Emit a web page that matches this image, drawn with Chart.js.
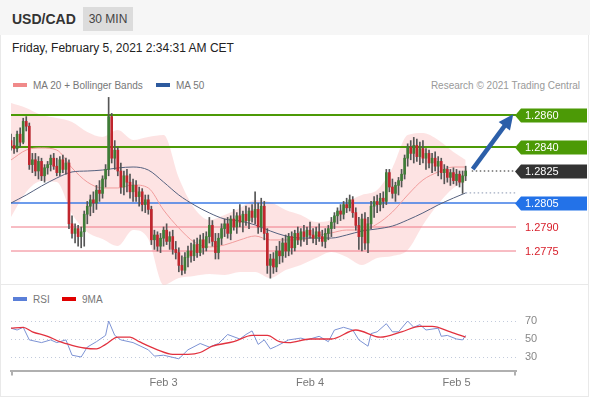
<!DOCTYPE html>
<html>
<head>
<meta charset="utf-8">
<script src="https://cdn.jsdelivr.net/npm/chart.js@4.4.1/dist/chart.umd.min.js"></script>
<style>
  body { margin:0; width:590px; height:400px; background:#fff; position:relative; overflow:hidden;
         font-family:"Liberation Sans", Arial, sans-serif; color:#333; }
  #head { position:absolute; left:0; top:0; width:590px; height:35px; background:#f6f6f6; }
  #sym { position:absolute; left:12px; top:11px; font-weight:bold; font-size:14px; line-height:16px; color:#333; }
  #tf { position:absolute; left:83px; top:7px; width:50px; height:24px; line-height:24px; text-align:center;
        background:#dcdcdc; font-size:12px; color:#444; }
  #frame { position:absolute; left:0; top:35px; width:587px; height:361px; border:1px solid #e9e9e9; border-top:none; }
  #sep { position:absolute; left:0; top:284px; width:588px; height:1px; background:#e9e9e9; }
  #date { position:absolute; left:12px; top:41px; font-size:12px; line-height:14px; color:#222; }
  .lg { position:absolute; font-size:10px; line-height:12px; color:#777; white-space:nowrap; }
  .lg i { display:inline-block; width:14px; height:4px; vertical-align:middle; margin:-2px 6px 0 0; }
  canvas { position:absolute; left:0; }
</style>
</head>
<body>
<div id="head"><span id="sym">USD/CAD</span><span id="tf">30 MIN</span></div>
<div id="frame"></div>
<div id="sep"></div>
<div id="date">Friday, February 5, 2021 2:34:31 AM CET</div>
<div class="lg" style="left:13px;top:80px"><i style="background:#f08a8a"></i>MA 20 + Bollinger Bands</div>
<div class="lg" style="left:156px;top:80px"><i style="background:#2d5a9e"></i>MA 50</div>
<div class="lg" style="right:10px;top:80px;color:#999">Research © 2021 Trading Central</div>
<div class="lg" style="left:13px;top:294px"><i style="background:#5a7fd8"></i>RSI</div>
<div class="lg" style="left:62px;top:294px"><i style="background:#e00000"></i>9MA</div>
<canvas id="main" width="590" height="195" style="top:90px"></canvas>
<canvas id="rsi" width="590" height="112" style="top:285px"></canvas>
<script>
// 30 min candles, Feb 2 late -> Feb 5 ~02:00
const opens = [1.2844,1.2841,1.2839,1.2848,1.2843,1.2856,1.2853,1.2829,1.2832,1.2825,
  1.2831,1.2822,1.2827,1.2829,1.2833,1.2828,1.2824,1.2832,1.2826,1.2830,
  1.2792,1.2786,1.2789,1.2784,1.2787,1.2798,1.2803,1.2807,1.2805,1.2813,
  1.2811,1.2820,1.2826,1.2859,1.2833,1.2838,1.2825,1.2815,1.2822,1.2818,
  1.2812,1.2816,1.2809,1.2812,1.2804,1.2807,1.2801,1.2782,1.2785,1.2778,
  1.2783,1.2788,1.2781,1.2784,1.2776,1.2774,1.2766,1.2763,1.2771,1.2775,
  1.2772,1.2779,1.2774,1.2782,1.2777,1.2784,1.2791,1.2781,1.2774,1.2783,
  1.2789,1.2792,1.2786,1.2795,1.2790,1.2797,1.2793,1.2798,1.2794,1.2800,
  1.2796,1.2801,1.2790,1.2803,1.2786,1.2766,1.2770,1.2765,1.2775,1.2772,
  1.2780,1.2775,1.2784,1.2777,1.2786,1.2782,1.2787,1.2784,1.2788,1.2785,
  1.2783,1.2787,1.2784,1.2781,1.2786,1.2789,1.2793,1.2797,1.2800,1.2798,
  1.2804,1.2802,1.2807,1.2799,1.2791,1.2784,1.2795,1.2780,1.2792,1.2803,
  1.2806,1.2804,1.2808,1.2806,1.2824,1.2815,1.2811,1.2816,1.2819,1.2823,
  1.2833,1.2840,1.2836,1.2841,1.2834,1.2839,1.2833,1.2836,1.2830,1.2833,
  1.2828,1.2831,1.2824,1.2826,1.2821,1.2824,1.2819,1.2823,1.2818,1.2822];
const highs = [1.2848,1.2846,1.2850,1.2852,1.2858,1.2859,1.2855,1.2836,1.2836,1.2834,
  1.2833,1.2829,1.2831,1.2835,1.2836,1.2833,1.2834,1.2835,1.2833,1.2832,
  1.2797,1.2792,1.2791,1.2790,1.2800,1.2806,1.2810,1.2812,1.2816,1.2819,
  1.2822,1.2829,1.2871,1.2861,1.2844,1.2840,1.2830,1.2825,1.2826,1.2823,
  1.2820,1.2819,1.2815,1.2814,1.2810,1.2810,1.2803,1.2788,1.2787,1.2786,
  1.2790,1.2792,1.2787,1.2788,1.2781,1.2777,1.2772,1.2774,1.2778,1.2780,
  1.2782,1.2783,1.2785,1.2786,1.2787,1.2796,1.2794,1.2786,1.2786,1.2792,
  1.2795,1.2796,1.2797,1.2801,1.2799,1.2804,1.2800,1.2803,1.2802,1.2804,
  1.2812,1.2805,1.2808,1.2806,1.2789,1.2773,1.2774,1.2778,1.2781,1.2783,
  1.2785,1.2786,1.2787,1.2788,1.2790,1.2789,1.2791,1.2790,1.2793,1.2789,
  1.2790,1.2792,1.2788,1.2789,1.2791,1.2796,1.2799,1.2802,1.2804,1.2806,
  1.2808,1.2810,1.2809,1.2802,1.2796,1.2798,1.2799,1.2796,1.2806,1.2809,
  1.2810,1.2811,1.2812,1.2826,1.2826,1.2820,1.2818,1.2821,1.2826,1.2835,
  1.2842,1.2844,1.2846,1.2845,1.2843,1.2844,1.2839,1.2838,1.2836,1.2837,
  1.2834,1.2833,1.2829,1.2828,1.2826,1.2827,1.2826,1.2825,1.2825,1.2828];
const lows = [1.2838,1.2836,1.2837,1.2840,1.2842,1.2850,1.2826,1.2824,1.2822,1.2820,
  1.2819,1.2818,1.2823,1.2825,1.2826,1.2822,1.2822,1.2824,1.2823,1.2789,
  1.2783,1.2780,1.2778,1.2777,1.2778,1.2792,1.2797,1.2799,1.2801,1.2806,
  1.2808,1.2815,1.2822,1.2830,1.2826,1.2822,1.2811,1.2810,1.2812,1.2808,
  1.2806,1.2806,1.2803,1.2800,1.2799,1.2798,1.2779,1.2776,1.2775,1.2774,
  1.2778,1.2779,1.2776,1.2773,1.2770,1.2762,1.2760,1.2761,1.2765,1.2768,
  1.2769,1.2771,1.2772,1.2773,1.2775,1.2780,1.2778,1.2770,1.2770,1.2779,
  1.2784,1.2783,1.2782,1.2788,1.2786,1.2790,1.2787,1.2791,1.2789,1.2793,
  1.2792,1.2786,1.2787,1.2782,1.2761,1.2758,1.2761,1.2762,1.2767,1.2768,
  1.2771,1.2772,1.2773,1.2775,1.2779,1.2778,1.2781,1.2779,1.2783,1.2780,
  1.2779,1.2781,1.2778,1.2777,1.2782,1.2784,1.2789,1.2792,1.2794,1.2795,
  1.2799,1.2800,1.2796,1.2788,1.2776,1.2775,1.2776,1.2774,1.2789,1.2796,
  1.2799,1.2800,1.2802,1.2804,1.2812,1.2808,1.2806,1.2810,1.2815,1.2820,
  1.2828,1.2832,1.2830,1.2831,1.2829,1.2830,1.2826,1.2827,1.2824,1.2825,
  1.2822,1.2820,1.2817,1.2818,1.2816,1.2817,1.2816,1.2815,1.2811,1.2819];
const closes = [1.2841,1.2839,1.2848,1.2843,1.2856,1.2853,1.2829,1.2832,1.2825,1.2831,
  1.2822,1.2827,1.2829,1.2833,1.2828,1.2824,1.2832,1.2826,1.2830,1.2792,
  1.2786,1.2789,1.2784,1.2787,1.2798,1.2803,1.2807,1.2805,1.2813,1.2811,
  1.2820,1.2826,1.2859,1.2833,1.2838,1.2825,1.2815,1.2822,1.2818,1.2812,
  1.2816,1.2809,1.2812,1.2804,1.2807,1.2801,1.2782,1.2785,1.2778,1.2783,
  1.2788,1.2781,1.2784,1.2776,1.2774,1.2766,1.2763,1.2771,1.2775,1.2772,
  1.2779,1.2774,1.2782,1.2777,1.2784,1.2791,1.2781,1.2774,1.2783,1.2789,
  1.2792,1.2786,1.2795,1.2790,1.2797,1.2793,1.2798,1.2794,1.2800,1.2796,
  1.2801,1.2790,1.2803,1.2786,1.2766,1.2770,1.2765,1.2775,1.2772,1.2780,
  1.2775,1.2784,1.2777,1.2786,1.2782,1.2787,1.2784,1.2788,1.2785,1.2783,
  1.2787,1.2784,1.2781,1.2786,1.2789,1.2793,1.2797,1.2800,1.2798,1.2804,
  1.2802,1.2807,1.2799,1.2791,1.2784,1.2795,1.2780,1.2792,1.2803,1.2806,
  1.2804,1.2808,1.2806,1.2824,1.2815,1.2811,1.2816,1.2819,1.2823,1.2833,
  1.2840,1.2836,1.2841,1.2834,1.2839,1.2833,1.2836,1.2830,1.2833,1.2828,
  1.2831,1.2824,1.2826,1.2821,1.2824,1.2819,1.2823,1.2818,1.2822,1.2825];

// Bollinger (MA 20) and MA 50, read every 5 bars
const bandIdx = [0,5,10,15,20,25,30,35,40,45,50,55,60,65,70,75,80,85,90,95,100,105,110,115,120,125,130,135,140,145,149];
const bbUpper = [1.28675,1.28644,1.28600,1.28581,1.28556,1.28494,1.28463,1.28506,1.28444,1.28463,1.28475,1.28206,1.28019,1.27944,1.27975,1.28019,
  1.28069,1.28056,1.28006,1.27975,1.27931,1.27944,1.28050,1.28100,1.28131,1.28269,1.28475,1.28488,1.28444,1.28369,1.28319];
const ma20 = [1.28319,1.28381,1.28394,1.28381,1.28269,1.28181,1.28144,1.28144,1.28163,1.28144,1.28006,1.27894,1.27806,1.27775,1.27788,1.27819,
  1.27844,1.27819,1.27819,1.27819,1.27844,1.27863,1.27881,1.27881,1.27919,1.27994,1.28100,1.28194,1.28244,1.28275,1.28275];
const bbLower = [1.27963,1.28119,1.28188,1.28181,1.27981,1.27869,1.27825,1.27781,1.27881,1.27825,1.27538,1.27581,1.27594,1.27606,1.27600,1.27619,
  1.27619,1.27581,1.27631,1.27663,1.27706,1.27744,1.27713,1.27663,1.27706,1.27719,1.27756,1.27913,1.28044,1.28144,1.28181];
const ma50 = [1.28050,1.28100,1.28156,1.28206,1.28244,1.28250,1.28256,1.28269,1.28275,1.28256,1.28181,1.28100,1.28038,1.27988,1.27950,1.27938,
  1.27913,1.27875,1.27844,1.27831,1.27831,1.27831,1.27850,1.27875,1.27888,1.27906,1.27944,1.27988,1.28038,1.28081,1.28113];

// support / resistance levels
const levels = [1.2860, 1.2840, 1.2805, 1.2790, 1.2775];
const lastPrice = 1.2825;
const labelLevels = [1.2860, 1.2840, 1.2825, 1.2805, 1.2790, 1.2775];
const arrowStart = [151.3, 1.28262];
const arrowEnd = [164.6, 1.28605];

// RSI and its 9MA
const rsiIdx = [0,2,4,6,10,13,15,18,20,23,25,28,31,32,34,36,40,45,47,50,55,58,62,65,68,71,75,77,79,81,83,85,87,91,95,97,101,104,106,109,112,114,117,118,120,123,125,127,130,132,134,136,140,141,143,146,148,149];
const rsiVal = [62,60,63,49,46,49,46,49,32,30,41,47,54,70,54,49,46,38,31,32,28,38,45,41,45,55,50,55,59,44,49,39,42,49,51,49,53,47,60,63,60,49,42,56,58,67,58,58,70,63,66,60,62,53,54,50,49,54];
const rsiMaIdx = [0,4,7,12,16,20,24,28,31,35,39,42,48,53,58,62,66,73,79,84,88,91,98,105,113,121,128,134,138,144,149];
const rsiMaVal = [62,63,58,53,47,43,40,39,44,52,52,47,38,33,33,35,42,47,54,54,47,46,50,50,60,52,58,64,64,58,52];
const rsiTicks = [30, 50, 70];

// x axis: bar index, day ticks
const xMax = 165.5;
const tickValues = [50, 98, 146];
const tickLabels = ['Feb 3', 'Feb 4', 'Feb 5'];

const FONT = '"Liberation Sans", Arial, sans-serif';
const upColor = '#3f7c37', downColor = '#c0262e';
const levelColors = ['#4c9a06', '#4c9a06', '#3d7be6', '#f07a88', '#f07a88'];
const levelWidths = [2, 2, 1.6, 1, 1];
const labelStyle = [
  { box: '#4c9a06' }, { box: '#4c9a06' }, { box: '#333333' },
  { box: '#2372e8' }, { text: '#d8202c' }, { text: '#d8202c' }
];

const pts = (xs, ys) => xs.map((x, i) => ({ x: x, y: ys[i] }));
const idx = closes.map((_, i) => i);

const lineDs = (data, color, width, order, extra) => Object.assign({
  type: 'line', data: data, borderColor: color, borderWidth: width,
  pointRadius: 0, fill: false, order: order
}, extra || {});

const levelSets = levels.map((lv, k) =>
  lineDs([{ x: 0, y: lv }, { x: xMax, y: lv }], levelColors[k], levelWidths[k], 3));

const labelPlugin = {
  id: 'levelLabels',
  afterDraw(chart) {
    const { ctx } = chart;
    const y = chart.scales.y;
    ctx.save();
    ctx.font = '11px ' + FONT;
    ctx.textBaseline = 'middle';
    labelLevels.forEach((lv, k) => {
      const py = Math.round(y.getPixelForValue(lv)) + 0.5;
      const st = labelStyle[k];
      if (st.box) {
        ctx.fillStyle = st.box;
        ctx.beginPath();
        ctx.moveTo(515, py);
        ctx.lineTo(521, py - 7);
        ctx.lineTo(587, py - 7);
        ctx.lineTo(587, py + 7);
        ctx.lineTo(521, py + 7);
        ctx.closePath();
        ctx.fill();
        ctx.fillStyle = '#fff';
      } else {
        ctx.fillStyle = st.text;
      }
      ctx.fillText(lv.toFixed(4), 525, py + 0.5);
    });
    ctx.restore();
  }
};

const arrowPlugin = {
  id: 'arrow',
  afterDatasetsDraw(chart) {
    const { ctx } = chart;
    const xs = chart.scales.x, ys = chart.scales.y;
    const x0 = xs.getPixelForValue(arrowStart[0]), y0 = ys.getPixelForValue(arrowStart[1]);
    const x1 = xs.getPixelForValue(arrowEnd[0]), y1 = ys.getPixelForValue(arrowEnd[1]);
    const ang = Math.atan2(y1 - y0, x1 - x0);
    const head = 15, half = 7;
    const bx = x1 - head * Math.cos(ang), by = y1 - head * Math.sin(ang);
    ctx.save();
    ctx.strokeStyle = '#2c5fa9';
    ctx.fillStyle = '#2c5fa9';
    ctx.lineWidth = 4.5;
    ctx.beginPath();
    ctx.moveTo(x0, y0);
    ctx.lineTo(bx + 2 * Math.cos(ang), by + 2 * Math.sin(ang));
    ctx.stroke();
    ctx.beginPath();
    ctx.moveTo(x1, y1);
    ctx.lineTo(bx + half * Math.sin(ang), by - half * Math.cos(ang));
    ctx.lineTo(bx - half * Math.sin(ang), by + half * Math.cos(ang));
    ctx.closePath();
    ctx.fill();
    ctx.restore();
  }
};

new Chart(document.getElementById('main'), {
  type: 'bar',
  data: {
    datasets: [
      {
        type: 'bar', data: idx.map(i => ({ x: i, y: [opens[i], closes[i]] })),
        backgroundColor: idx.map(i => closes[i] >= opens[i] ? upColor : downColor),
        barThickness: 2, grouped: false, minBarLength: 1, order: 0
      },
      {
        type: 'bar', data: idx.map(i => ({ x: i, y: [lows[i], highs[i]] })),
        backgroundColor: '#555', barThickness: 1, grouped: false, order: 1
      },
      lineDs(pts(bandIdx, ma50), '#55617f', 1, 2, { cubicInterpolationMode: 'monotone' }),
      lineDs(pts(bandIdx, ma20), '#f19c9c', 1, 2, { cubicInterpolationMode: 'monotone' }),
      lineDs([{ x: 151, y: lastPrice }, { x: 165.3, y: lastPrice }], '#222', 1, 2, { borderDash: [1.5, 2.5] }),
      lineDs([{ x: 149, y: ma50[ma50.length - 1] }, { x: 165.3, y: ma50[ma50.length - 1] }], '#8a97b0', 1, 2, { borderDash: [1.5, 2.5] }),
      ...levelSets,
      lineDs(pts(bandIdx, bbUpper), 'rgba(0,0,0,0)', 0, 6,
        { cubicInterpolationMode: 'monotone', fill: '+1', backgroundColor: 'rgba(252,200,200,0.5)' }),
      lineDs(pts(bandIdx, bbLower), 'rgba(0,0,0,0)', 0, 7, { cubicInterpolationMode: 'monotone' })
    ]
  },
  options: {
    responsive: false, animation: false, events: [],
    devicePixelRatio: 1,
    layout: { padding: { left: 11, right: 74, top: 5, bottom: 0 } },
    plugins: { legend: { display: false }, tooltip: { enabled: false } },
    scales: {
      x: { type: 'linear', min: 0, max: xMax, offset: false, display: false },
      y: { type: 'linear', min: 1.275375, max: 1.28725, display: false }
    }
  },
  plugins: [arrowPlugin, labelPlugin]
});

const axisEnds = {
  id: 'axisEnds',
  afterDraw(chart) {
    const { ctx, chartArea: a } = chart;
    ctx.save();
    ctx.strokeStyle = '#b0b0b0';
    ctx.lineWidth = 2;
    ctx.beginPath();
    ctx.moveTo(a.left + 1, a.bottom);
    ctx.lineTo(a.left + 1, a.bottom + 5);
    ctx.moveTo(a.right - 1, a.bottom);
    ctx.lineTo(a.right - 1, a.bottom + 5);
    ctx.stroke();
    ctx.restore();
  }
};

new Chart(document.getElementById('rsi'), {
  type: 'line',
  data: {
    datasets: [
      lineDs(pts(rsiIdx, rsiVal), '#7d93d4', 1, 1),
      lineDs(pts(rsiMaIdx, rsiMaVal), '#e2323f', 1.3, 0, { cubicInterpolationMode: 'monotone' })
    ]
  },
  options: {
    responsive: false, animation: false, events: [],
    devicePixelRatio: 1,
    layout: { padding: { left: 11, right: 0, top: 22.5, bottom: 0 } },
    plugins: { legend: { display: false }, tooltip: { enabled: false } },
    scales: {
      x: {
        type: 'linear', min: 0, max: xMax, offset: false, position: 'bottom',
        grid: { display: false, drawTicks: false },
        border: { display: true, color: '#b0b0b0', width: 2 },
        afterBuildTicks: s => { s.ticks = tickValues.map(v => ({ value: v })); },
        afterFit: s => { s.height = 26.5; },
        ticks: {
          autoSkip: false, maxRotation: 0, padding: 6, color: '#777',
          font: { family: FONT, size: 11 },
          callback: v => tickLabels[tickValues.indexOf(v)]
        }
      },
      y: {
        type: 'linear', min: 15, max: 85, position: 'right',
        grid: { color: '#c3cbdc', drawTicks: false },
        border: { display: false, dash: [1, 3] },
        afterBuildTicks: s => { s.ticks = rsiTicks.map(v => ({ value: v })); },
        afterFit: s => { s.width = 74; },
        ticks: { padding: 9, color: '#888', font: { family: FONT, size: 11 } }
      }
    }
  },
  plugins: [axisEnds]
});
</script>
</body>
</html>
